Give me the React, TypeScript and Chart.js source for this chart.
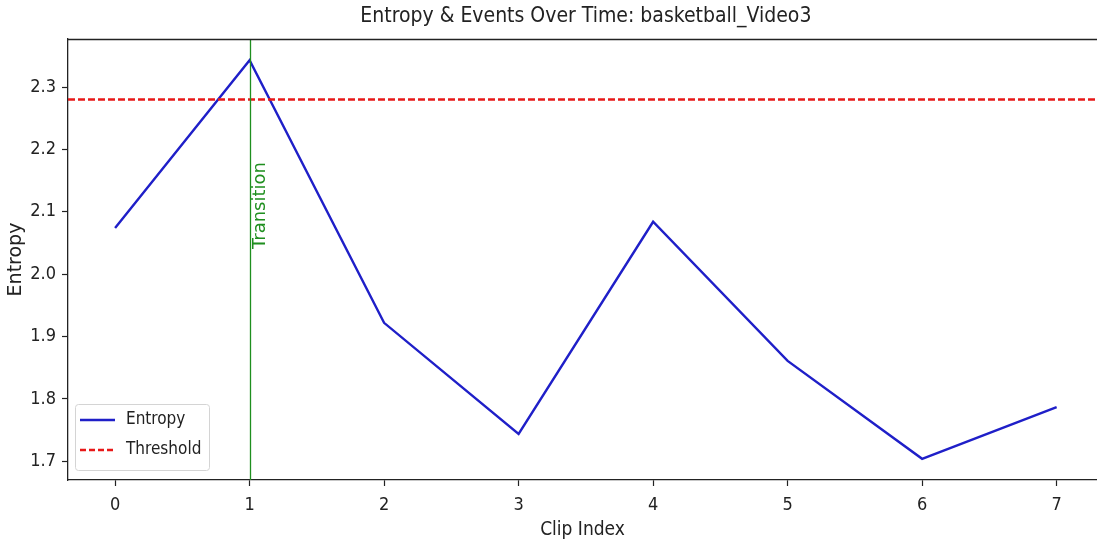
import React, { useEffect, useRef } from "react";
import { Chart, registerables } from "chart.js";

Chart.register(...registerables);

// ---- data ----
const clipIndex = [0, 1, 2, 3, 4, 5, 6, 7];
const entropyValues = [2.074, 2.343, 1.922, 1.744, 2.084, 1.861, 1.704, 1.787];
const thresholdValue = 2.28;
const eventClips = [1];
const eventLabels = ["Transition"];
const eventLabelY = 2.11;
const xTickValues = [0, 1, 2, 3, 4, 5, 6, 7];
const yTickValues = [1.7, 1.8, 1.9, 2.0, 2.1, 2.2, 2.3];
const X_MIN = -0.35;
const X_MAX = 7.3; // visible part (axes extend to 7.35, cropped)
const X_FULL_MAX = 7.35;
const Y_MIN = 1.67;
const Y_MAX = 2.377;
const TITLE = "Entropy & Events Over Time: basketball_Video3";
const X_LABEL = "Clip Index";
const Y_LABEL = "Entropy";
const SERIES_NAMES = ["Entropy", "Threshold"];

const NARROW = '"Liberation Sans Narrow", "DejaVu Sans Condensed", sans-serif';
const WIDE = '"DejaVu Sans", sans-serif';
const BLUE = "#1f1fc8";
const RED = "#e81818";
const GREEN = "#1f8f1f";
const INK = "#222222";

const overlay = {
  id: "overlay",
  afterDatasetsDraw(chart: any) {
    const { ctx, chartArea, scales } = chart;
    const xs = scales.x;
    const ys = scales.y;
    ctx.save();
    eventClips.forEach((c, i) => {
      const px = Math.round(xs.getPixelForValue(c)) + 0.5;
      ctx.strokeStyle = GREEN;
      ctx.lineWidth = 1.3;
      ctx.beginPath();
      ctx.moveTo(px, chartArea.top);
      ctx.lineTo(px, chartArea.bottom);
      ctx.stroke();
      const py = ys.getPixelForValue(eventLabelY);
      ctx.translate(px + 1, py);
      ctx.rotate(-Math.PI / 2);
      ctx.fillStyle = GREEN;
      ctx.font = `18px ${WIDE}`;
      ctx.textAlign = "center";
      ctx.textBaseline = "top";
      ctx.fillText(eventLabels[i], 0, 0);
      ctx.setTransform(1, 0, 0, 1, 0, 0);
    });
    ctx.restore();
  },
  afterDraw(chart: any) {
    const { ctx, chartArea, scales } = chart;
    const xs = scales.x;
    ctx.save();
    // top spine
    ctx.strokeStyle = INK;
    ctx.lineWidth = 1.3;
    ctx.beginPath();
    ctx.moveTo(chartArea.left, chartArea.top + 0.5);
    ctx.lineTo(chartArea.right, chartArea.top + 0.5);
    ctx.stroke();
    // title centred on full axes width
    const cx = xs.getPixelForValue((X_MIN + X_FULL_MAX) / 2);
    ctx.fillStyle = INK;
    ctx.font = `21px ${NARROW}`;
    ctx.textAlign = "center";
    ctx.textBaseline = "middle";
    ctx.fillText(TITLE, cx, 17);
    // legend
    const lx = chartArea.left + 7;
    const lw = 134;
    const lh = 66;
    const ly = chartArea.bottom - 10 - lh;
    ctx.fillStyle = "rgba(255,255,255,0.85)";
    ctx.strokeStyle = "#d4d4d4";
    ctx.lineWidth = 1;
    ctx.beginPath();
    ctx.roundRect(lx + 0.5, ly + 0.5, lw, lh, 3);
    ctx.fill();
    ctx.stroke();
    const rows = [
      { name: SERIES_NAMES[0], color: BLUE, dash: [] as number[] },
      { name: SERIES_NAMES[1], color: RED, dash: [6, 3] },
    ];
    rows.forEach((r, i) => {
      const ry = ly + 16 + i * 30;
      ctx.strokeStyle = r.color;
      ctx.lineWidth = 2.4;
      ctx.setLineDash(r.dash);
      ctx.beginPath();
      ctx.moveTo(lx + 5, ry);
      ctx.lineTo(lx + 40, ry);
      ctx.stroke();
      ctx.setLineDash([]);
      ctx.fillStyle = INK;
      ctx.font = `17px ${NARROW}`;
      ctx.textAlign = "left";
      ctx.textBaseline = "middle";
      ctx.fillText(r.name, lx + 51, ry);
    });
    ctx.restore();
  },
};

export default function App() {
  const ref = useRef<HTMLCanvasElement | null>(null);
  useEffect(() => {
    if (!ref.current) return;
    const chart = new Chart(ref.current, {
      type: "line",
      data: {
        datasets: [
          {
            label: SERIES_NAMES[1],
            data: [
              { x: X_MIN, y: thresholdValue },
              { x: X_MAX, y: thresholdValue },
            ],
            borderColor: RED,
            borderWidth: 2.5,
            borderDash: [7, 3],
            pointRadius: 0,
            fill: false,
            order: 0,
          },
          {
            label: SERIES_NAMES[0],
            data: clipIndex.map((c, i) => ({ x: c, y: entropyValues[i] })),
            borderColor: BLUE,
            borderWidth: 2.4,
            pointRadius: 0,
            tension: 0,
            fill: false,
            order: 1,
          },
        ],
      },
      options: {
        responsive: false,
        animation: false,
        devicePixelRatio: 1,
        layout: { padding: { top: 39, left: 0, right: 0, bottom: 0 } },
        plugins: {
          legend: { display: false },
          title: { display: false },
          tooltip: { enabled: false },
        },
        scales: {
          x: {
            type: "linear",
            min: X_MIN,
            max: X_MAX,
            afterBuildTicks: (s: any) => {
              s.ticks = xTickValues.map((v) => ({ value: v }));
            },
            afterFit: (s: any) => {
              s.height = 66;
            },
            grid: {
              drawOnChartArea: false,
              drawTicks: true,
              tickLength: 6,
              tickWidth: 1.2,
              tickColor: INK,
            },
            border: { display: true, color: INK, width: 1.3 },
            ticks: {
              color: INK,
              font: { family: NARROW, size: 18 },
              padding: 9,
              maxRotation: 0,
              callback: (v: any) => String(v),
            },
            title: {
              display: true,
              text: X_LABEL,
              color: INK,
              font: { family: NARROW, size: 19 },
              padding: { top: 0, bottom: 5 },
            },
          },
          y: {
            type: "linear",
            min: Y_MIN,
            max: Y_MAX,
            afterBuildTicks: (s: any) => {
              s.ticks = yTickValues.map((v) => ({ value: v }));
            },
            afterFit: (s: any) => {
              s.width = 68;
            },
            grid: {
              drawOnChartArea: false,
              drawTicks: true,
              tickLength: 6,
              tickWidth: 1.2,
              tickColor: INK,
            },
            border: { display: true, color: INK, width: 1.3 },
            ticks: {
              color: INK,
              font: { family: NARROW, size: 18 },
              padding: 6,
              callback: (v: any) => Number(v).toFixed(1),
            },
            title: {
              display: true,
              text: Y_LABEL,
              color: INK,
              font: { family: WIDE, size: 19 },
              padding: { top: 5, bottom: 0 },
            },
          },
        },
      },
      plugins: [overlay],
    });
    return () => chart.destroy();
  }, []);
  return (
    <div style={{ position: "absolute", left: 0, top: 0, width: 1097, height: 546, background: "#fff" }}>
      <canvas ref={ref} width={1097} height={546} />
    </div>
  );
}
